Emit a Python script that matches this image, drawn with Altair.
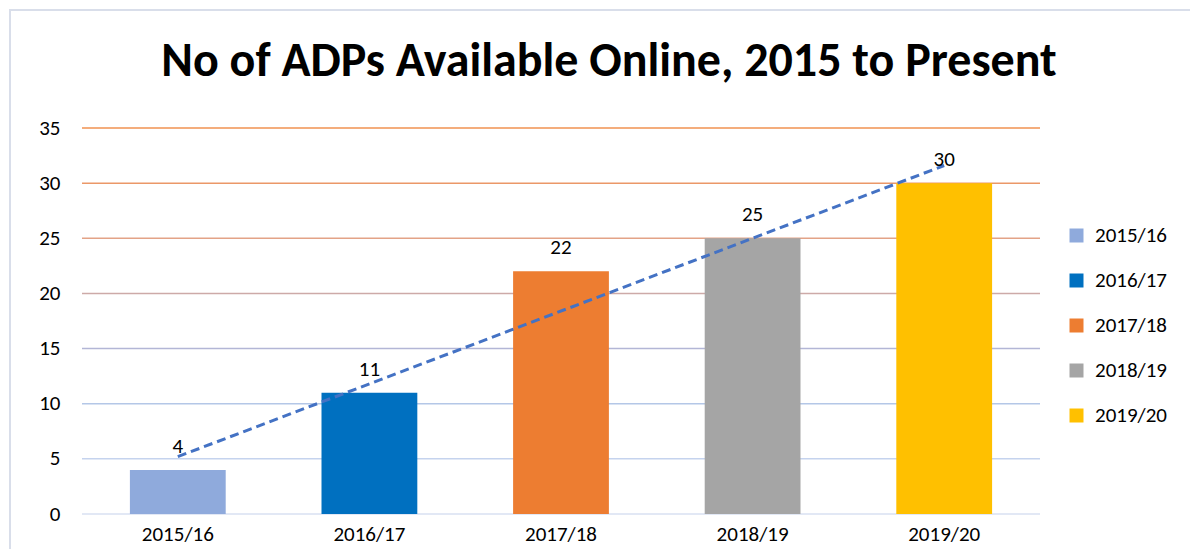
import json
import altair as alt
import pandas as pd

# ---- data ----
categories = ["2015/16", "2016/17", "2017/18", "2018/19", "2019/20"]
values = [4, 11, 22, 25, 30]
bar_colors = ["#8FAADC", "#0070C0", "#ED7D31", "#A5A5A5", "#FFC000"]
grid_values = [0, 5, 10, 15, 20, 25, 30, 35]
grid_colors = ["#D9E1F2", "#C5D3EE", "#B4C7E7", "#B3B6D6", "#CDAAA8", "#E3A387", "#EB9868", "#F19250"]

FONT = "Carlito, Calibri, Lato"

df = pd.DataFrame({"category": categories, "value": values, "idx": list(range(len(categories)))})
grid_df = pd.DataFrame({"g": grid_values})
frame_df = pd.DataFrame({"a": [0]})

x_enc = alt.X(
    "category:N",
    sort=categories,
    title=None,
    scale=alt.Scale(paddingInner=0.5, paddingOuter=0.25),
    axis=alt.Axis(labelFont=FONT, labelFontSize=21, labelColor="#000000", labelPadding=9,
                  domain=False, ticks=False, labelAngle=0),
)
y_scale = alt.Scale(domain=[0, 35])

frame = alt.Chart(frame_df).mark_rect(
    filled=False, stroke="#D9DEEA", strokeWidth=2, clip=False
).encode(x=alt.value(-72), x2=alt.value(1130), y=alt.value(-118), y2=alt.value(440))

grid = alt.Chart(grid_df).mark_rule(strokeWidth=1.5).encode(
    y=alt.Y("g:Q", scale=y_scale, title=None,
            axis=alt.Axis(values=grid_values, labelFont=FONT, labelFontSize=21, labelColor="#000000",
                          labelPadding=22, domain=False, ticks=False, grid=False)),
    color=alt.Color("g:O", scale=alt.Scale(domain=grid_values, range=grid_colors), legend=None),
)

bars = alt.Chart(df).mark_bar().encode(
    x=x_enc,
    y=alt.Y("value:Q", scale=y_scale),
    color=alt.Color(
        "category:N",
        scale=alt.Scale(domain=categories, range=bar_colors),
        title=None,
        legend=alt.Legend(orient="none", legendX=984, legendY=97, symbolType="square", symbolSize=196,
                          symbolStrokeWidth=0, labelFont=FONT, labelFontSize=21, labelColor="#000000",
                          rowPadding=23, labelOffset=8),
    ),
)

labels = alt.Chart(df).mark_text(font=FONT, fontSize=21, color="#000000", baseline="alphabetic", dy=-17).encode(
    x=alt.X("category:N", sort=categories),
    y=alt.Y("value:Q", scale=y_scale),
    text="value:Q",
)

cat_expr = json.dumps(categories) + "[round(datum.idx)]"
trend = alt.Chart(df).transform_regression(
    "idx", "value", extent=[0, len(categories) - 1]
).transform_calculate(cat=cat_expr).mark_line(
    color="#4472C4", strokeWidth=3, strokeDash=[9, 5]
).encode(
    x=alt.X("cat:N", sort=categories),
    y=alt.Y("value:Q", scale=y_scale),
)

chart = alt.layer(frame, grid, bars, trend, labels).resolve_scale(color="independent").properties(
    width=958,
    height=386,
    autosize=alt.AutoSizeParams(type="none"),
    padding={"left": 74, "top": 120, "right": 150, "bottom": 35},
    background="white",
    title=alt.TitleParams(
        "No of ADPs Available Online, 2015 to Present",
        font=FONT, fontSize=48, fontWeight="bold", color="#000000",
        anchor="middle", dx=48, offset=-115, baseline="alphabetic",
    ),
).configure_view(stroke=None)

chart.save("out.html", embed_options={"renderer": "svg", "actions": False})
